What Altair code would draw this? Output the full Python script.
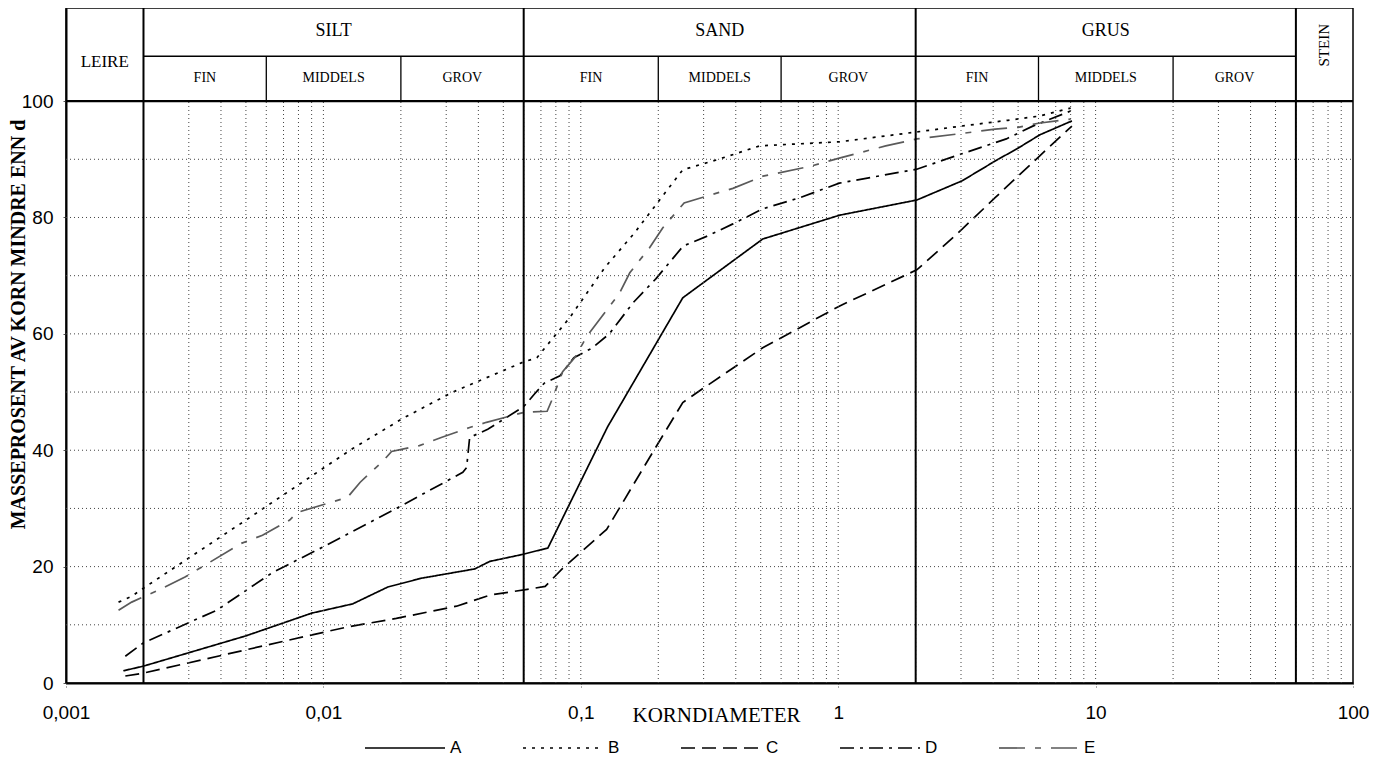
import math
import pandas as pd
import altair as alt

# ---------------- data ----------------
series_names = ["A", "B", "C", "D", "E"]

a_d = [0.00167, 0.002, 0.005, 0.009, 0.013, 0.0178, 0.024, 0.0387, 0.0443, 0.0594, 0.0745,
       0.127, 0.249, 0.509, 1.014, 2.02, 3.03, 4.07, 4.99, 6.07, 8.09]
a_p = [2.1, 2.9, 8.1, 12.0, 13.6, 16.5, 18.0, 19.6, 20.9, 22.1, 23.2,
       44.0, 66.2, 76.3, 80.4, 83.0, 86.3, 89.7, 91.9, 94.2, 96.6]

b_d = [0.0016, 0.0018, 0.002, 0.005, 0.013, 0.0204, 0.0315, 0.0387, 0.0594, 0.0675, 0.0906,
       0.124, 0.162, 0.208, 0.249, 0.337, 0.495, 0.666, 1.01, 2.02, 3.0, 4.56, 6.0, 8.0]
b_p = [13.9, 14.9, 16.3, 28.0, 40.3, 45.5, 49.9, 51.6, 55.1, 55.9, 62.8,
       71.4, 77.4, 83.7, 88.2, 89.9, 92.3, 92.6, 93.0, 94.7, 95.7, 96.7, 97.4, 98.8]

c_d = [0.0017, 0.002, 0.006, 0.0123, 0.0192, 0.0329, 0.0443, 0.062, 0.0727, 0.085, 0.126,
       0.141, 0.19, 0.249, 0.298, 0.509, 1.014, 2.02, 2.48, 3.03, 4.07, 4.99, 6.07, 8.09]
c_p = [1.2, 1.7, 6.5, 9.6, 11.1, 13.2, 15.1, 16.1, 16.6, 19.7, 26.4,
       30.0, 39.6, 48.2, 50.6, 57.6, 64.8, 71.0, 74.5, 78.0, 83.4, 87.1, 90.6, 95.7]

d_d = [0.0017, 0.002, 0.00385, 0.00635, 0.0103, 0.0192, 0.0348, 0.036, 0.037, 0.0435, 0.06,
       0.0662, 0.072, 0.083, 0.094, 0.111, 0.129, 0.16, 0.196, 0.25, 0.31, 0.39, 0.51, 0.71,
       1.01, 2.02, 3.0, 4.5, 5.7, 8.0]
d_p = [4.6, 6.9, 12.5, 19.0, 23.7, 30.0, 36.2, 37.0, 42.2, 43.6, 47.5,
       49.7, 51.5, 52.8, 55.9, 57.6, 60.0, 65.4, 69.5, 75.1, 76.8, 78.9, 81.5, 83.4,
       85.9, 88.3, 90.9, 93.5, 95.7, 98.3]

e_d = [0.0016, 0.0018, 0.0023, 0.0029, 0.0048, 0.0058, 0.0074, 0.0079, 0.0124, 0.0139, 0.0171,
       0.0184, 0.0236, 0.0287, 0.037, 0.043, 0.06, 0.074, 0.077, 0.085, 0.095, 0.106, 0.141,
       0.155, 0.185, 0.208, 0.252, 0.31, 0.39, 0.51, 0.78, 1.01, 1.53, 2.02, 3.1, 4.07, 5.0,
       6.0, 8.0]
e_p = [12.5, 13.9, 16.0, 18.2, 24.0, 25.4, 28.0, 29.3, 31.9, 34.5, 38.2,
       39.8, 40.8, 42.2, 43.9, 44.8, 46.5, 46.7, 48.5, 53.5, 56.0, 59.7, 66.9,
       70.5, 74.8, 78.2, 82.5, 83.7, 85.0, 87.1, 88.8, 90.2, 92.3, 93.5, 94.5, 95.2, 95.5,
       96.2, 96.9]

x_tick_values = [0.001, 0.01, 0.1, 1, 10, 100]
y_tick_values = [0, 20, 40, 60, 80, 100]
grid_y = [10, 20, 30, 40, 50, 60, 70, 80, 90]
grid_x = [round(m * 10.0 ** k, 6) for k in range(-3, 2) for m in range(2, 10)] + [0.01, 0.1, 1, 10]

main_edges = [0.001, 0.002, 0.06, 2, 60, 100]
main_classes = ["LEIRE", "SILT", "SAND", "GRUS", "STEIN"]
main_bounds = [0.002, 0.06, 2, 60]
sub_edges = [0.002, 0.006, 0.02, 0.06, 0.2, 0.6, 2, 6, 20, 60]
sub_classes = ["FIN", "MIDDELS", "GROV"] * 3
sub_bounds = [0.006, 0.02, 0.2, 0.6, 6, 20]

x_title = "KORNDIAMETER"
y_title = "MASSEPROSENT AV KORN MINDRE ENN d"

# ---------------- layout constants ----------------
Y_MAX = 116.0
Y_SPLIT = 107.7
Y_TOP_TXT = 112.0
Y_SUB_TXT = 104.0
Y_LEIRE = 106.8
Y_STEIN = 109.6
W, H = 1287, 675

SERIF = "Liberation Serif"
SANS = "Liberation Sans"

xs = alt.Scale(type="log", domain=[0.001, 100], nice=False)
ys = alt.Scale(domain=[0, Y_MAX], nice=False, zero=False)

rows = []
for name, dd, pp in zip(series_names, [a_d, b_d, c_d, d_d, e_d], [a_p, b_p, c_p, d_p, e_p]):
    for i, (d, p) in enumerate(zip(dd, pp)):
        rows.append({"d": d, "p": p, "serie": name, "i": i})
curves_df = pd.DataFrame(rows)

legend = alt.Legend(
    orient="none", legendX=298, legendY=699, direction="horizontal", title=None,
    symbolType="stroke", symbolSize=6400, labelFont=SANS, labelFontSize=17,
    labelColor="black", labelOffset=4, columnPadding=57,
)

curves = alt.Chart(curves_df).mark_line(strokeCap="butt", clip=False).encode(
    x=alt.X("d:Q", scale=xs, axis=alt.Axis(
        values=x_tick_values, labelExpr="replace(toString(datum.value), '.', ',')",
        title=x_title, titleFont=SERIF, titleFontSize=21, titleFontWeight="normal",
        titleX=650, titleY=32, titleBaseline="middle", titleColor="black",
        labelFont=SANS, labelFontSize=19, labelColor="black", labelPadding=15,
        tickSize=5, tickColor="#555", tickDash=[1, 2], grid=False,
        domainColor="black", domainWidth=2, labelFlush=False)),
    y=alt.Y("p:Q", scale=ys, axis=alt.Axis(
        values=y_tick_values, title=y_title, titleFont=SERIF, titleFontSize=20,
        titleFontWeight="bold", titleColor="black", titleX=-42, titleY=316,
        titleBaseline="alphabetic", titleAngle=270,
        labelFont=SANS, labelFontSize=19, labelColor="black", labelPadding=10,
        tickSize=3, tickColor="#555", grid=False, domainColor="black", domainWidth=2)),
    color=alt.Color("serie:N", scale=alt.Scale(domain=series_names,
                    range=["#000000", "#000000", "#000000", "#000000", "#5a5a5a"]), legend=legend),
    strokeDash=alt.StrokeDash("serie:N", scale=alt.Scale(domain=series_names,
                    range=[[1, 0], [3, 6], [14, 7], [14, 6, 3, 6], [26, 10, 6, 10]]), legend=legend),
    strokeWidth=alt.StrokeWidth("serie:N", scale=alt.Scale(domain=series_names,
                    range=[1.7, 1.7, 1.5, 1.5, 2.6]), legend=legend),
    order="i:Q",
)

vgrid = alt.Chart(pd.DataFrame({"gx": grid_x})).mark_rule(
    color="#444", strokeWidth=1, strokeDash=[1, 3]).encode(
    x="gx:Q", y=alt.YDatum(0), y2=alt.Y2Datum(100))

hgrid = alt.Chart(pd.DataFrame({"gy": grid_y})).mark_rule(
    color="#444", strokeWidth=1, strokeDash=[1, 3]).encode(
    y="gy:Q", x=alt.XDatum(0.001), x2=alt.X2Datum(100))

main_lines = alt.Chart(pd.DataFrame({"bx": main_bounds})).mark_rule(
    color="black", strokeWidth=2).encode(
    x="bx:Q", y=alt.YDatum(0), y2=alt.Y2Datum(Y_MAX))

sub_lines = alt.Chart(pd.DataFrame({"sx": sub_bounds})).mark_rule(
    color="black", strokeWidth=1.3).encode(
    x="sx:Q", y=alt.YDatum(100), y2=alt.Y2Datum(Y_SPLIT))

split_line = alt.Chart(pd.DataFrame({"k": [0]})).mark_rule(
    color="black", strokeWidth=1.5).encode(
    y=alt.YDatum(Y_SPLIT), x=alt.XDatum(main_bounds[0]), x2=alt.X2Datum(main_bounds[-1]))

top100_line = alt.Chart(pd.DataFrame({"k": [0]})).mark_rule(
    color="black", strokeWidth=2.2).encode(
    y=alt.YDatum(100), x=alt.XDatum(0.001), x2=alt.X2Datum(100))

main_txt_df = pd.DataFrame({
    "label": main_classes,
    "xc": [math.sqrt(lo * hi) for lo, hi in zip(main_edges[:-1], main_edges[1:])],
})
sub_txt_df = pd.DataFrame({
    "label": sub_classes,
    "xc": [math.sqrt(lo * hi) for lo, hi in zip(sub_edges[:-1], sub_edges[1:])],
})

top_txt = alt.Chart(main_txt_df[main_txt_df.label.isin(["SILT", "SAND", "GRUS"])]).mark_text(
    font=SERIF, fontSize=18, color="black", baseline="middle").encode(
    x="xc:Q", y=alt.YDatum(Y_TOP_TXT), text="label:N")

leire_txt = alt.Chart(main_txt_df[main_txt_df.label == "LEIRE"]).mark_text(
    font=SERIF, fontSize=17, color="black", baseline="middle").encode(
    x="xc:Q", y=alt.YDatum(Y_LEIRE), text="label:N")

stein_txt = alt.Chart(main_txt_df[main_txt_df.label == "STEIN"]).mark_text(
    font=SERIF, fontSize=15, color="black", baseline="middle", angle=270).encode(
    x="xc:Q", y=alt.YDatum(Y_STEIN), text="label:N")

sub_txt = alt.Chart(sub_txt_df).mark_text(
    font=SERIF, fontSize=14, color="black", baseline="middle").encode(
    x="xc:Q", y=alt.YDatum(Y_SUB_TXT), text="label:N")

chart = alt.layer(
    curves, vgrid, hgrid, main_lines, sub_lines, split_line, top100_line,
    top_txt, leire_txt, stein_txt, sub_txt,
).properties(
    width=W, height=H,
    autosize=alt.AutoSizeParams(type="none"),
    padding={"left": 58, "top": 0, "right": 22, "bottom": 75},
    background="white",
).configure_view(stroke="black", strokeWidth=1.5)

chart.save("out.html", embed_options={"renderer": "svg", "actions": False})
